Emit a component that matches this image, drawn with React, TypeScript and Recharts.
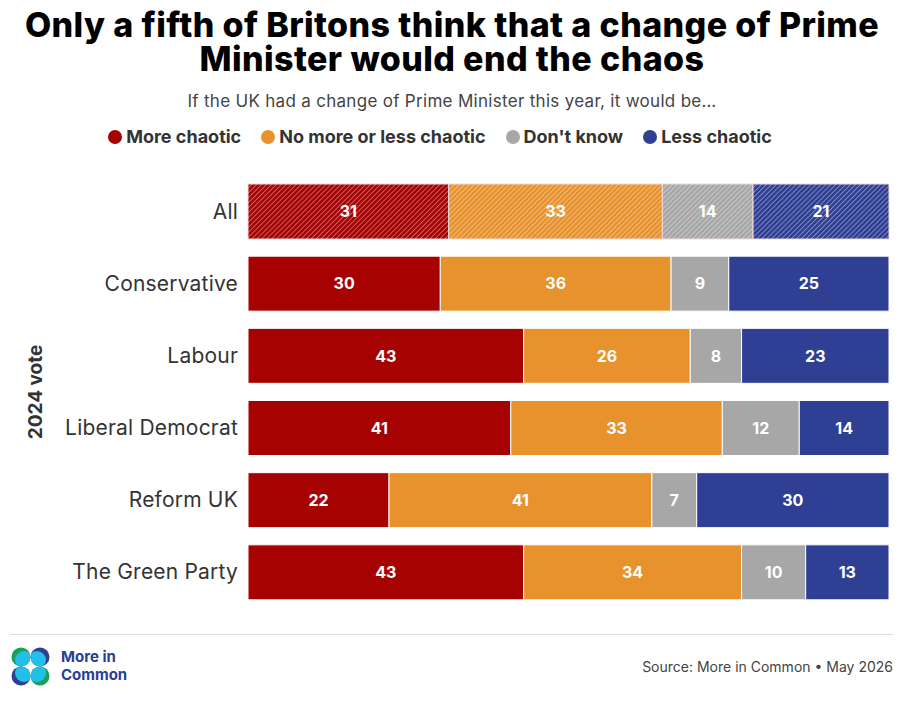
import React from "react";
import { BarChart, Bar, XAxis, YAxis, Cell, LabelList } from "recharts";

// categories, top to bottom
const groups = [
  "All",
  "Conservative",
  "Labour",
  "Liberal Democrat",
  "Reform UK",
  "The Green Party",
];

const moreChaotic = [31, 30, 43, 41, 22, 43];
const noDifference = [33, 36, 26, 33, 41, 34];
const dontKnow = [14, 9, 8, 12, 7, 10];
const lessChaotic = [21, 25, 23, 14, 30, 13];

const series = [
  { key: "more", label: "More chaotic", color: "#a60202", values: moreChaotic },
  { key: "same", label: "No more or less chaotic", color: "#e8922e", values: noDifference },
  { key: "dk", label: "Don't know", color: "#a7a7a7", values: dontKnow },
  { key: "less", label: "Less chaotic", color: "#2f3f94", values: lessChaotic },
];

const titleLines = [
  "Only a fifth of Britons think that a change of Prime",
  "Minister would end the chaos",
];

const data = groups.map((g, i) => {
  const row: Record<string, string | number> = { group: g };
  series.forEach((s) => (row[s.key] = s.values[i]));
  return row;
});

const FONT = "Inter, 'Noto Sans', sans-serif";

function Logo() {
  const corners = [
    { cx: 10, cy: 10, dx: 3, dy: 3, c: "#1aa05a" },
    { cx: 29, cy: 10, dx: -3, dy: 3, c: "#2f3f94" },
    { cx: 10, cy: 29, dx: 3, dy: -3, c: "#2f3f94" },
    { cx: 29, cy: 29, dx: -3, dy: -3, c: "#1aa05a" },
  ];
  return (
    <svg width={40} height={40} viewBox="0 0 40 40">
      {corners.map((p, i) => (
        <g key={i}>
          <clipPath id={`logo-clip-${i}`}>
            <circle cx={p.cx} cy={p.cy} r={9.5} />
          </clipPath>
          <circle cx={p.cx} cy={p.cy} r={9.5} fill={p.c} />
          <circle
            cx={p.cx + p.dx}
            cy={p.cy + p.dy}
            r={9}
            fill="#22bfe8"
            clipPath={`url(#logo-clip-${i})`}
          />
        </g>
      ))}
    </svg>
  );
}

export default function App() {
  return (
    <div
      style={{
        position: "fixed",
        left: 0,
        top: 0,
        width: 904,
        height: 702,
        background: "#fff",
        fontFamily: FONT,
        overflow: "hidden",
      }}
    >
      {/* hatch patterns for the "All" row */}
      <svg width={0} height={0} style={{ position: "absolute" }}>
        <defs>
          {series.map((s) => (
            <pattern
              key={s.key}
              id={`hatch-${s.key}`}
              width={3.5}
              height={3.5}
              patternUnits="userSpaceOnUse"
              patternTransform="rotate(45)"
            >
              <rect width={3.5} height={3.5} fill={s.color} />
              <line x1={0} y1={0} x2={0} y2={3.5} stroke="#fff" strokeWidth={1.3} strokeOpacity={0.55} />
            </pattern>
          ))}
        </defs>
      </svg>

      {titleLines.map((line, i) => (
        <div
          key={i}
          style={{
            position: "absolute",
            top: 8 + i * 34,
            width: 904,
            textAlign: "center",
            fontSize: 34,
            fontWeight: 800,
            lineHeight: "34px",
            letterSpacing: 0.4,
            color: "#000",
            whiteSpace: "nowrap",
          }}
        >
          {line}
        </div>
      ))}
      <div
        style={{
          position: "absolute",
          top: 91,
          width: 904,
          textAlign: "center",
          fontSize: 17,
          letterSpacing: 0.3,
          color: "#444",
        }}
      >
        If the UK had a change of Prime Minister this year, it would be…
      </div>

      {/* legend */}
      <div
        style={{
          position: "absolute",
          top: 126,
          left: -12,
          width: 904,
          display: "flex",
          justifyContent: "center",
          gap: 20,
          fontSize: 18,
          fontWeight: 700,
          color: "#333",
        }}
      >
        {series.map((s) => (
          <span key={s.key} style={{ display: "flex", alignItems: "center" }}>
            <span
              style={{
                width: 14,
                height: 14,
                borderRadius: "50%",
                background: s.color,
                marginRight: 4,
                display: "inline-block",
              }}
            />
            {s.label}
          </span>
        ))}
      </div>

      <div
        style={{
          position: "absolute",
          left: 35,
          top: 392,
          transform: "translate(-50%, -50%) rotate(-90deg)",
          fontSize: 19,
          fontWeight: 700,
          color: "#333",
          whiteSpace: "nowrap",
        }}
      >
        2024 vote
      </div>

      <div style={{ position: "absolute", left: 0, top: 0 }}>
        <BarChart
          width={904}
          height={620}
          data={data}
          layout="vertical"
          stackOffset="expand"
          margin={{ top: 175, right: 15, bottom: 12, left: 0 }}
        >
          <XAxis type="number" domain={[0, 1]} hide />
          <YAxis
            type="category"
            dataKey="group"
            width={248}
            axisLine={false}
            tickLine={false}
            tickMargin={4}
            tick={{ fontSize: 21, fill: "#333", fontFamily: FONT, letterSpacing: 0.2 }}
          />
          {series.map((s) => (
            <Bar
              key={s.key}
              dataKey={s.key}
              stackId="a"
              fill={s.color}
              barSize={55}
              stroke="#fff"
              strokeWidth={1}
              isAnimationActive={false}
            >
              {data.map((row, i) => (
                <Cell
                  key={i}
                  fill={i === 0 ? `url(#hatch-${s.key})` : s.color}
                  stroke={i === 0 ? "#f3d9d9" : "#fff"}
                />
              ))}
              <LabelList
                dataKey={s.key}
                position="center"
                fill="#fff"
                fontSize={16}
                fontWeight={700}
                fontFamily={FONT}
              />
            </Bar>
          ))}
        </BarChart>
      </div>

      <div
        style={{
          position: "absolute",
          left: 10,
          top: 634,
          width: 883,
          height: 1,
          background: "#dcdcdc",
        }}
      />
      <div style={{ position: "absolute", left: 11, top: 647 }}>
        <Logo />
      </div>
      <div
        style={{
          position: "absolute",
          left: 61,
          top: 648,
          fontSize: 15,
          fontWeight: 700,
          lineHeight: "18px",
          color: "#2a3d94",
        }}
      >
        <div>More in</div>
        <div>Common</div>
      </div>
      <div
        style={{
          position: "absolute",
          right: 11,
          top: 658,
          fontSize: 14,
          color: "#444",
        }}
      >
        Source: More in Common • May 2026
      </div>
    </div>
  );
}
